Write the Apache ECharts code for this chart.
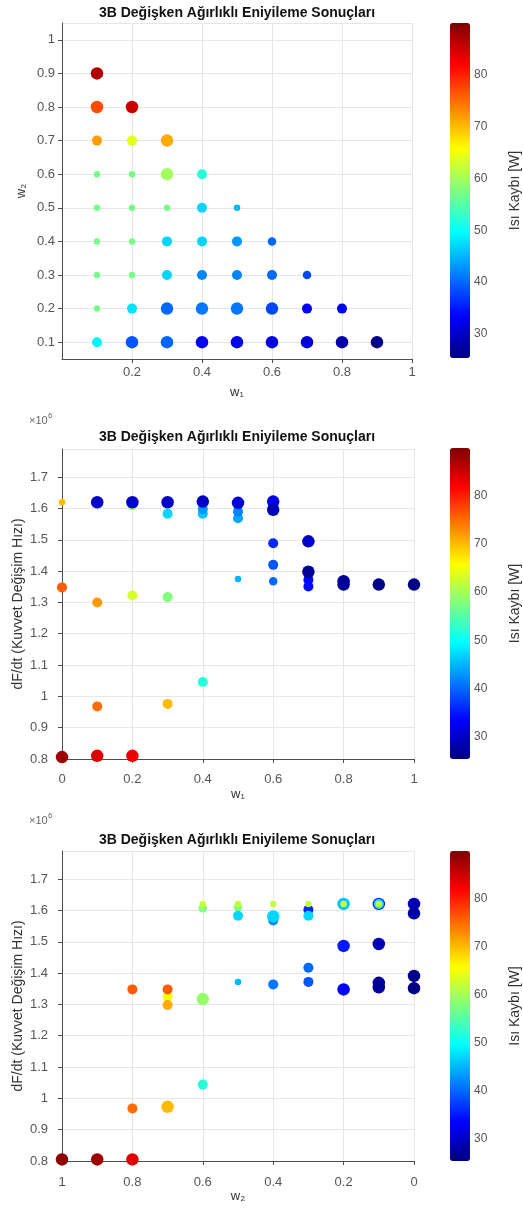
<!DOCTYPE html>
<html>
<head>
<meta charset="utf-8">
<script src="https://cdn.jsdelivr.net/npm/echarts@6/dist/echarts.min.js"></script>
<style>
html, body { margin: 0; padding: 0; background: #fff; }
#chart { width: 523px; height: 1210px; }
</style>
</head>
<body>
<div id="chart"></div>
<script>
// colour bar limits (Isı Kaybı [W])
const HEAT_MIN = 25.4;
const HEAT_MAX = 89.9;

// panel 1: w1 vs w2
const p1W1 = [0.1, 0.1, 0.2, 0.1, 0.2, 0.3, 0.1, 0.2, 0.3, 0.4, 0.1, 0.2, 0.3, 0.4, 0.5,
  0.1, 0.2, 0.3, 0.4, 0.5, 0.6, 0.1, 0.2, 0.3, 0.4, 0.5, 0.6, 0.7,
  0.1, 0.2, 0.3, 0.4, 0.5, 0.6, 0.7, 0.8, 0.1, 0.2, 0.3, 0.4, 0.5, 0.6, 0.7, 0.8, 0.9];
const p1W2 = [0.9, 0.8, 0.8, 0.7, 0.7, 0.7, 0.6, 0.6, 0.6, 0.6, 0.5, 0.5, 0.5, 0.5, 0.5,
  0.4, 0.4, 0.4, 0.4, 0.4, 0.4, 0.3, 0.3, 0.3, 0.3, 0.3, 0.3, 0.3,
  0.2, 0.2, 0.2, 0.2, 0.2, 0.2, 0.2, 0.2, 0.1, 0.1, 0.1, 0.1, 0.1, 0.1, 0.1, 0.1, 0.1];
const p1Heat = [87, 77, 85, 72, 64, 71, 57, 57, 60, 52, 57, 57, 57, 47, 45,
  57, 57, 47, 47, 43, 40, 57, 57, 47, 42, 42, 40, 38,
  57, 48, 40, 41, 41, 38, 33, 33, 49, 39, 40, 33, 33, 32, 31, 28, 26];
const p1Size = [4, 4, 4, 3, 3, 4, 1, 1, 4, 3, 1, 1, 1, 3, 1,
  1, 1, 3, 3, 3, 2, 1, 1, 3, 3, 3, 3, 2,
  1, 3, 4, 4, 4, 4, 3, 3, 3, 4, 4, 4, 4, 4, 4, 4, 4];

// panel 2: w1 vs dF/dt
const p2W1 = [0, 0, 0, 0.1, 0.1, 0.1, 0.1, 0.2, 0.2, 0.2, 0.2, 0.3, 0.3, 0.3, 0.3,
  0.4, 0.4, 0.4, 0.4, 0.5, 0.5, 0.5, 0.5, 0.6, 0.6, 0.6, 0.6, 0.6,
  0.7, 0.7, 0.7, 0.7, 0.8, 0.8, 0.9, 1.0];
const p2Rate = [1620000, 1348000, 806000, 1620000, 1300000, 968000, 810000,
  1610000, 1620000, 1322000, 810000, 1583000, 1620000, 1317000, 976000,
  1583000, 1598000, 1622000, 1046000, 1569000, 1590000, 1618000, 1375000,
  1622000, 1596000, 1489000, 1420000, 1368000,
  1495000, 1372000, 1351000, 1398000, 1357000, 1368000, 1357000, 1357000];
const p2Heat = [70, 76, 88, 30, 72, 75, 84, 60, 30, 63, 83, 47, 30, 58, 70,
  46, 43, 30, 52, 44, 42, 31, 45, 32, 29, 36, 39, 40,
  30, 34, 34, 27, 27, 27, 26, 26];
const p2Size = [1, 3, 4, 4, 3, 3, 4, 3, 4, 3, 4, 3, 4, 3, 3,
  3, 3, 4, 3, 3, 3, 4, 1, 4, 4, 3, 3, 2,
  4, 3, 3, 4, 4, 4, 4, 4];

// panel 3: w2 vs dF/dt
const p3W2 = [1.0, 0.9, 0.8, 0.8, 0.8, 0.7, 0.7, 0.7, 0.7, 0.6, 0.6, 0.6, 0.6,
  0.5, 0.5, 0.5, 0.5, 0.4, 0.4, 0.4, 0.4, 0.3, 0.3, 0.3, 0.3, 0.3,
  0.2, 0.2, 0.2, 0.2, 0.1, 0.1, 0.1, 0.1, 0.1, 0.1, 0, 0, 0, 0];
const p3Rate = [805000, 805000, 1348000, 968000, 805000, 1325000, 1348000, 1298000, 973000,
  1607000, 1621000, 1317000, 1044000, 1610000, 1583000, 1621000, 1372000,
  1568000, 1581000, 1621000, 1364000, 1602000, 1583000, 1621000, 1417000, 1372000,
  1621000, 1621000, 1487000, 1348000, 1621000, 1621000, 1621000, 1493000, 1369000, 1355000,
  1621000, 1591000, 1391000, 1352000];
const p3Heat = [89, 88, 76, 75, 84, 65, 76, 71, 70, 58, 62, 59, 52, 58, 47, 62, 45,
  42, 47, 62, 41, 36, 47, 62, 40, 39, 46, 62, 35, 33, 36, 48, 62, 29, 27, 27,
  29, 28, 26, 26];
const p3Size = [4, 4, 3, 3, 4, 3, 3, 3, 4, 2, 1, 4, 3, 2, 3, 1, 1,
  3, 4, 1, 3, 3, 3, 1, 3, 3, 4, 1, 4, 4, 4, 3, 1, 4, 4, 4,
  4, 4, 4, 4];

const FONT = '"Liberation Sans", Arial, sans-serif';
const JET = ['#00007f', '#0000ff', '#007fff', '#00ffff', '#7fff7f', '#ffff00', '#ff7f00', '#ff0000', '#7f0000'];
const SIZE_PX = { 1: 6.5, 2: 8.5, 3: 10, 4: 12.5 };
const TITLE = '3B Değişken Ağırlıklı Eniyileme Sonuçları';
const AXIS_COLOR = '#4d4d4d';

const plotGrids = [
  { left: 62, top: 23, width: 350, height: 336 },
  { left: 62, top: 449, width: 352, height: 310 },
  { left: 62, top: 851, width: 352, height: 310 },
];
const barGrids = [
  { left: 450, top: 23, width: 20, height: 335 },
  { left: 450, top: 448, width: 20, height: 311 },
  { left: 450, top: 851, width: 20, height: 310 },
];

function zip(xs, ys, cs, ss) {
  return xs.map((x, i) => [x, ys[i], cs[i], ss[i]]);
}

function valueAxis(gridIndex, opts) {
  return {
    type: 'value',
    gridIndex,
    min: opts.min,
    max: opts.max,
    splitNumber: opts.splitNumber,
    inverse: !!opts.inverse,
    name: opts.name,
    nameLocation: 'middle',
    nameGap: opts.nameGap,
    nameRotate: opts.nameRotate,
    nameMoveOverlap: false,
    nameTextStyle: { color: '#333', fontSize: opts.nameSize || 13, fontFamily: FONT },
    axisLine: { show: true, onZero: false, lineStyle: { color: AXIS_COLOR } },
    axisTick: { show: true, inside: false, length: 4, lineStyle: { color: AXIS_COLOR } },
    axisLabel: {
      color: '#555', fontSize: 13, fontFamily: FONT, margin: opts.margin,
      showMinLabel: opts.showMin, showMaxLabel: opts.showMax,
      formatter: opts.formatter,
    },
    splitLine: { show: true, lineStyle: { color: '#e6e6e6' } },
  };
}

const rateFmt = (v) => String(Math.round(v / 1e5) / 10);

const xAxes = [
  valueAxis(0, { min: 0, max: 1, splitNumber: 5, showMin: false, showMax: true, name: 'w₁', nameGap: 27, margin: 7 }),
  valueAxis(1, { min: 0, max: 1, splitNumber: 5, showMin: true, showMax: true, name: 'w₁', nameGap: 29, margin: 14 }),
  valueAxis(2, { min: 0, max: 1, splitNumber: 5, inverse: true, showMin: true, showMax: true, name: 'w₂', nameGap: 29, margin: 15 }),
];
const yAxes = [
  valueAxis(0, { min: 0.05, max: 1.05, splitNumber: 10, showMin: false, showMax: false, margin: 7,
    name: 'w₂', nameGap: 34, nameRotate: 90 }),
  valueAxis(1, { min: 800000, max: 1790000, splitNumber: 10, showMin: true, showMax: false, formatter: rateFmt, margin: 14,
    name: 'dF/dt (Kuvvet Değişim Hızı)', nameGap: 37, nameRotate: 90, nameSize: 14 }),
  valueAxis(2, { min: 800000, max: 1790000, splitNumber: 10, showMin: true, showMax: false, formatter: rateFmt, margin: 14,
    name: 'dF/dt (Kuvvet Değişim Hızı)', nameGap: 37, nameRotate: 90, nameSize: 14 }),
];

// colour bar axes
barGrids.forEach((g, i) => {
  xAxes.push({ type: 'value', gridIndex: 3 + i, show: false, min: 0, max: 1 });
  yAxes.push({
    type: 'value', gridIndex: 3 + i, position: 'right',
    min: HEAT_MIN, max: HEAT_MAX, splitNumber: 6,
    name: 'Isı Kaybı [W]', nameLocation: 'middle', nameRotate: 90, nameGap: 38,
    nameTextStyle: { color: '#333', fontSize: 14, fontFamily: FONT },
    axisLine: { show: false },
    axisTick: { show: true, length: 3, lineStyle: { color: AXIS_COLOR } },
    axisLabel: { color: '#555', fontSize: 12, fontFamily: FONT, margin: 4, showMinLabel: false, showMaxLabel: false },
    splitLine: { show: false },
  });
});

const panelData = [
  zip(p1W1, p1W2, p1Heat, p1Size),
  zip(p2W1, p2Rate, p2Heat, p2Size),
  zip(p3W2, p3Rate, p3Heat, p3Size),
];

const series = panelData.map((data, i) => ({
  type: 'scatter',
  xAxisIndex: i,
  yAxisIndex: i,
  data,
  symbolSize: (v) => SIZE_PX[v[3]],
  itemStyle: { opacity: 1 },
}));

const visualMap = barGrids.map((g, i) => ({
  type: 'continuous',
  seriesIndex: i,
  dimension: 2,
  min: HEAT_MIN,
  max: HEAT_MAX,
  inRange: { color: JET },
  calculable: false,
  hoverLink: false,
  orient: 'vertical',
  left: g.left,
  top: g.top,
  itemWidth: g.width,
  itemHeight: g.height,
  padding: 0,
}));

const titleY = [13, 437, 840];
const graphic = [];
titleY.forEach((y) => {
  graphic.push({
    type: 'text', x: 237, y,
    style: { text: TITLE, align: 'center', verticalAlign: 'middle', font: 'bold 14px ' + FONT, fill: '#111' },
  });
});
[421, 821].forEach((y) => {
  graphic.push({ type: 'text', x: 29, y, style: { text: '×10', verticalAlign: 'middle', font: '11px ' + FONT, fill: '#666' } });
  graphic.push({ type: 'text', x: 48, y: y - 5, style: { text: '6', verticalAlign: 'middle', font: '8px ' + FONT, fill: '#666' } });
});

const chart = echarts.init(document.getElementById('chart'), null, { renderer: 'canvas' });
chart.setOption({
  animation: false,
  backgroundColor: '#fff',
  grid: plotGrids.concat(barGrids).map((g) => Object.assign({ outerBoundsMode: 'none', containLabel: false }, g)),
  xAxis: xAxes,
  yAxis: yAxes,
  visualMap,
  series,
  graphic,
});
</script>
</body>
</html>
